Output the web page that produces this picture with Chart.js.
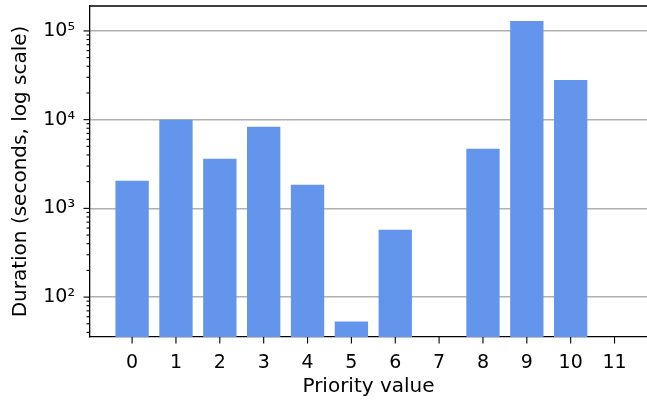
<!DOCTYPE html>
<html>
<head>
<meta charset="utf-8">
<script src="https://cdn.jsdelivr.net/npm/chart.js@4"></script>
<style>
  html, body { margin: 0; padding: 0; background: #ffffff; overflow: hidden; }
  #wrap { width: 647px; height: 401px; }
</style>
</head>
<body>
<div id="wrap"><canvas id="c" width="647" height="401"></canvas></div>
<script>
// ---- data ----
const categories = ['0','1','2','3','4','5','6','7','8','9','10','11'];
const categoryValues = [0,1,2,3,4,5,6,7,8,9,10,11];
const durations = [2050, 9950, 3630, 8320, 1850, 53, 575, null, 4700, 129500, 28000, null];
const yTickValues = [100, 1000, 10000, 100000];
const yTickLabels = ['10\u00B2', '10\u00B3', '10\u2074', '10\u2075'];
const yMinorMultipliers = [2,3,4,5,6,7,8,9];
const yMinorDecades = [10, 100, 1000, 10000, 100000];

const FONT = "'DejaVu Sans', 'Liberation Sans', sans-serif";

const minorTicks = [];
yMinorDecades.forEach(d => yMinorMultipliers.forEach(m => minorTicks.push(m * d)));

const spinesAndTicks = {
  id: 'spinesAndTicks',
  afterDraw(chart) {
    const ctx = chart.ctx;
    const area = chart.chartArea;
    const x = chart.scales.x, y = chart.scales.y;
    ctx.save();
    ctx.strokeStyle = '#000000';
    ctx.lineWidth = 1.3;
    ctx.beginPath();
    ctx.moveTo(area.left, area.top);
    ctx.lineTo(area.right, area.top);
    ctx.stroke();
    ctx.lineWidth = 1.1;
    y.ticks.forEach(t => {
      if (t.value < y.min || t.value > y.max) return;
      const py = y.getPixelForValue(t.value);
      const len = t.major ? 6.5 : 3.5;
      ctx.beginPath();
      ctx.moveTo(area.left - len, py);
      ctx.lineTo(area.left, py);
      ctx.stroke();
    });
    x.ticks.forEach(t => {
      const px = x.getPixelForValue(t.value);
      ctx.beginPath();
      ctx.moveTo(px, area.bottom);
      ctx.lineTo(px, area.bottom + 6.5);
      ctx.stroke();
    });
    ctx.restore();
  }
};

new Chart(document.getElementById('c'), {
  type: 'bar',
  data: {
    datasets: [{
      data: categoryValues.map((c, i) => ({ x: c, y: durations[i] })),
      backgroundColor: '#6495ED',
      borderWidth: 0,
      barPercentage: 0.76,
      categoryPercentage: 1.0
    }]
  },
  options: {
    responsive: false,
    animation: false,
    devicePixelRatio: 1,
    layout: { padding: { top: 6, right: 0, bottom: 0, left: 0 } },
    plugins: { legend: { display: false }, tooltip: { enabled: false } },
    scales: {
      x: {
        type: 'linear',
        offset: false,
        bounds: 'data',
        min: -0.96,
        max: 11.74,
        afterBuildTicks(scale) {
          scale.ticks = categoryValues.map(v => ({ value: v }));
        },
        afterFit(scale) { scale.height = 64; scale.paddingLeft = 0; scale.paddingRight = 0; },
        grid: { display: false, drawTicks: false, offset: false },
        border: { display: true, color: '#000000', width: 1.3 },
        ticks: {
          padding: 15,
          maxRotation: 0,
          autoSkip: false,
          color: '#000000',
          font: { family: FONT, size: 19 },
          callback: (v, i) => categories[i]
        },
        title: {
          display: true,
          text: 'Priority value',
          color: '#000000',
          font: { family: FONT, size: 20 },
          padding: { top: 0, bottom: 2 }
        }
      },
      y: {
        type: 'logarithmic',
        min: 35.5,
        max: 191000,
        afterBuildTicks(scale) {
          const t = yTickValues.map(v => ({ value: v, major: true }));
          minorTicks.forEach(v => { if (v > scale.min && v < scale.max && yTickValues.indexOf(v) < 0) t.push({ value: v, major: false }); });
          t.sort((a, b) => a.value - b.value);
          scale.ticks = t;
        },
        afterFit(scale) { scale.width = 90; scale.paddingTop = 0; scale.paddingBottom = 0; },
        grid: {
          drawTicks: false,
          color: ctx => (ctx.tick && ctx.tick.major) ? '#b0b0b0' : 'rgba(0,0,0,0)',
          lineWidth: 1.4
        },
        border: { display: true, color: '#000000', width: 1.3 },
        ticks: {
          padding: 15,
          autoSkip: false,
          color: '#000000',
          font: { family: FONT, size: 19 },
          callback: function (v) {
            const k = yTickValues.indexOf(v);
            return k >= 0 ? yTickLabels[k] : '';
          }
        },
        title: {
          display: true,
          text: 'Duration (seconds, log scale)',
          color: '#000000',
          font: { family: FONT, size: 20 },
          padding: { top: 9, bottom: 0 }
        }
      }
    }
  },
  plugins: [spinesAndTicks]
});
</script>
</body>
</html>
